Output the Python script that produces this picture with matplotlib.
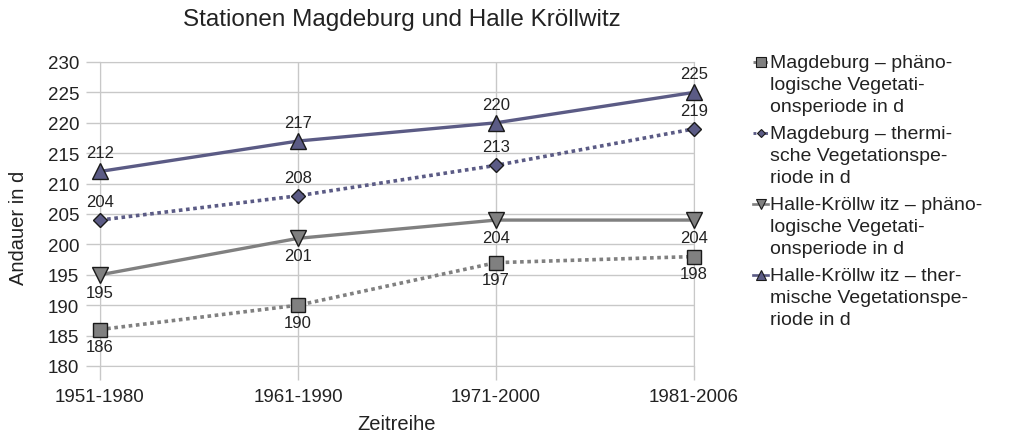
import matplotlib
matplotlib.use("Agg")
import matplotlib.pyplot as plt
from matplotlib.lines import Line2D

plt.rcParams['font.family'] = ['Liberation Sans', 'DejaVu Sans']

categories = ["1951-1980", "1961-1990", "1971-2000", "1981-2006"]
mag_phaen = [186, 190, 197, 198]
mag_therm = [204, 208, 213, 219]
halle_phaen = [195, 201, 204, 204]
halle_therm = [212, 217, 220, 225]
labels = [
    "Magdeburg – phäno-\nlogische Vegetati-\nonsperiode in d",
    "Magdeburg – thermi-\nsche Vegetationspe-\nriode in d",
    "Halle-Kröllw itz – phäno-\nlogische Vegetati-\nonsperiode in d",
    "Halle-Kröllw itz – ther-\nmische Vegetationspe-\nriode in d",
]

W, H = 1011, 439
fig = plt.figure(figsize=(W/100, H/100), dpi=100)
ax = fig.add_axes([100/W, 1-367/H, 594/W, 304/H])

x = list(range(len(categories)))
gray = "#808080"
blue = "#5b5b85"
dot = (0, (1, 1))

series = [
    (mag_phaen, gray, dot, 's', 10, 'below', 2.6),
    (mag_therm, blue, dot, 'D', 7, 'above', 2.6),
    (halle_phaen, gray, '-', 'v', 11.5, 'below', 2.4),
    (halle_therm, blue, '-', '^', 11.5, 'above', 2.4),
]
for i, ((vals, col, ls, mk, ms, pos, lw), lab) in enumerate(zip(series, labels)):
    ax.plot(x, vals, color=col, linestyle=ls, linewidth=lw, marker=mk,
            markersize=ms, markerfacecolor=col, markeredgecolor="#1a1a1a",
            markeredgewidth=1.0, clip_on=False, zorder=3)
    for xi, v in zip(x, vals):
        if pos == 'above':
            ax.annotate(str(v), (xi, v), xytext=(0, 8), textcoords='offset points',
                        ha='center', va='bottom', fontsize=12, color='#222222')
        else:
            ax.annotate(str(v), (xi, v), xytext=(0, -7), textcoords='offset points',
                        ha='center', va='top', fontsize=12, color='#222222')
    # legend entry (handle aligned with the first text line)
    yc = 63 + i * 71
    fig.add_artist(Line2D([753/W, 768/W], [1-yc/H, 1-yc/H], transform=fig.transFigure,
                          color=col, linestyle=ls, linewidth=lw*0.8))
    fig.add_artist(Line2D([760.5/W], [1-yc/H], transform=fig.transFigure,
                          linestyle='none', marker=mk, markersize=ms*0.65,
                          markerfacecolor=col, markeredgecolor="#1a1a1a",
                          markeredgewidth=0.8))
    fig.text(770/W, 1-(yc-8)/H, lab, ha='left', va='top', fontsize=14,
             color="#222222", linespacing=1.39)

ax.set_xlim(0, 3)
ax.set_ylim(180, 230)
ax.set_yticks(range(180, 231, 5))
ax.set_xticks(x)
ax.set_xticklabels(categories)
ax.grid(True, color="#c8c8c8", linewidth=1)
ax.set_axisbelow(True)
for s in ax.spines.values():
    s.set_color("#c8c8c8")
ax.tick_params(axis='both', colors="#c8c8c8", labelcolor="#222222", labelsize=13.5,
               length=10, width=1)
ax.tick_params(axis='y', pad=5)
ax.tick_params(axis='x', pad=6)
ax.set_xlabel("Zeitreihe", fontsize=14.5, color="#222222", va='center')
ax.xaxis.set_label_coords((397-100)/594, (367-425)/304)
ax.set_ylabel("Andauer in d", fontsize=14.5, color="#222222", va='center')
ax.yaxis.set_label_coords((19-100)/594, (367-228)/304)
fig.text(402/W, 1-20/H, "Stationen Magdeburg und Halle Kröllwitz",
         ha='center', va='center', fontsize=17.5, color="#222222")

fig.savefig("out.png", dpi=100)
